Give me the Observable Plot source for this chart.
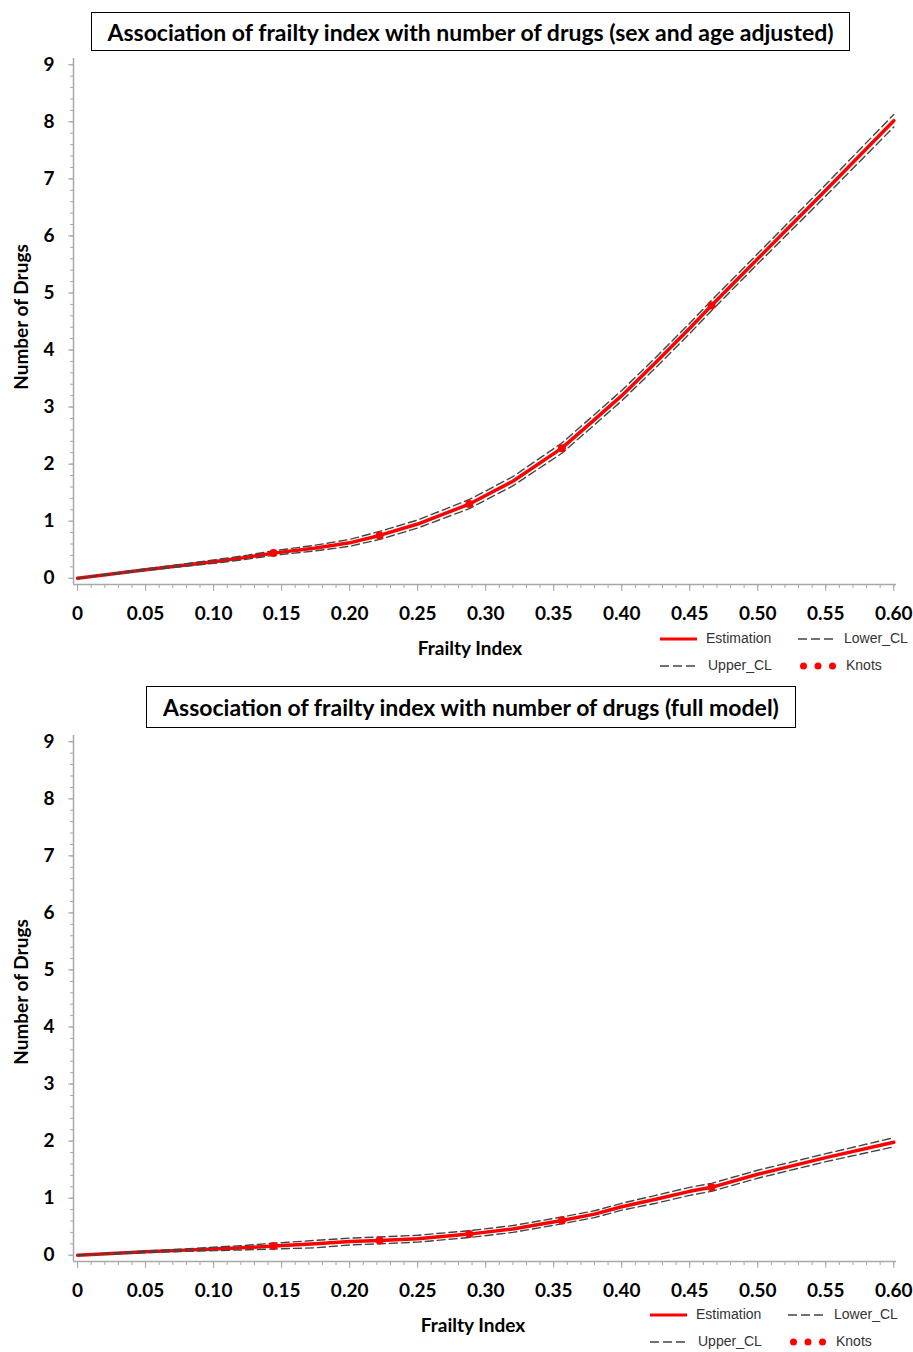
<!DOCTYPE html>
<html>
<head>
<meta charset="utf-8">
<script src="https://cdn.jsdelivr.net/npm/d3@7"></script>
<script src="https://cdn.jsdelivr.net/npm/@observablehq/plot@0.6"></script>
<style>
  html, body { margin: 0; padding: 0; background: #fff; }
  #page { position: relative; width: 913px; height: 1352px; overflow: hidden; font-family: Lato, "Open Sans", sans-serif; }
  .title { position: absolute; border: 1px solid #000; background: #fff; font-weight: bold; font-size: 23px; display: flex; align-items: center; justify-content: center; box-sizing: border-box; white-space: nowrap; }
  .axt { position: absolute; font-weight: bold; font-size: 19px; white-space: nowrap; line-height: 1; }
  .leg { position: absolute; font-family: "Liberation Sans", Arial, sans-serif; font-size: 14px; color: #333; white-space: nowrap; line-height: 1; }
</style>
</head>
<body>
<div id="page"></div>
<script>
// ---------- data ----------
const frailty = [0, 0.025, 0.05, 0.075, 0.10, 0.125, 0.144, 0.175, 0.20, 0.222, 0.25, 0.288, 0.32, 0.356, 0.38, 0.40, 0.425, 0.45, 0.466, 0.50, 0.55, 0.60];

// chart 1: sex and age adjusted
const est1   = [0, 0.075, 0.15, 0.22, 0.29, 0.37, 0.44, 0.53, 0.62, 0.75, 0.95, 1.30, 1.70, 2.28, 2.78, 3.20, 3.78, 4.38, 4.78, 5.60, 6.80, 8.02];
const upper1 = [0, 0.085, 0.165, 0.24, 0.32, 0.405, 0.48, 0.58, 0.68, 0.82, 1.02, 1.38, 1.78, 2.37, 2.87, 3.29, 3.87, 4.47, 4.87, 5.69, 6.90, 8.13];
const lower1 = [0, 0.065, 0.135, 0.20, 0.26, 0.335, 0.40, 0.48, 0.56, 0.68, 0.88, 1.22, 1.62, 2.19, 2.69, 3.11, 3.69, 4.29, 4.69, 5.51, 6.70, 7.91];

// chart 2: full model
const est2   = [0, 0.03, 0.06, 0.085, 0.11, 0.135, 0.16, 0.20, 0.24, 0.26, 0.29, 0.37, 0.46, 0.61, 0.72, 0.85, 0.98, 1.12, 1.19, 1.42, 1.71, 1.98];
const upper2 = [0, 0.04, 0.075, 0.105, 0.14, 0.175, 0.21, 0.26, 0.30, 0.32, 0.35, 0.43, 0.52, 0.67, 0.78, 0.91, 1.05, 1.19, 1.26, 1.49, 1.78, 2.06];
const lower2 = [0, 0.02, 0.045, 0.065, 0.08, 0.095, 0.11, 0.13, 0.18, 0.20, 0.23, 0.31, 0.40, 0.55, 0.66, 0.79, 0.91, 1.05, 1.12, 1.35, 1.64, 1.90];

const knotX  = [0.144, 0.222, 0.288, 0.356, 0.466];
const knots1 = [0.44, 0.75, 1.30, 2.28, 4.78];
const knots2 = [0.16, 0.26, 0.37, 0.61, 1.19];

const xMajor = [0, 0.05, 0.10, 0.15, 0.20, 0.25, 0.30, 0.35, 0.40, 0.45, 0.50, 0.55, 0.60];
const xMinor = d3.range(0, 61).map(i => i / 100);
const yMajor = [0, 1, 2, 3, 4, 5, 6, 7, 8, 9];
const yMinor = d3.range(0, 46).map(i => i / 5);

const titles = [
  "Association of frailty index with number of drugs (sex and age adjusted)",
  "Association of frailty index with number of drugs (full model)"
];
const xTitle = "Frailty Index";
const yTitle = "Number of Drugs";
const legendLabels = ["Estimation", "Lower_CL", "Upper_CL", "Knots"];

// ---------- drawing ----------
const page = document.getElementById("page");
const gray = "#a8a8a8";
const xDom = [-0.003, 0.602];
const yDom = [-0.11, 9.11];

function chart(est, upper, lower, knotsY, height) {
  const rows = frailty.map((f, i) => ({f, est: est[i], up: upper[i], lo: lower[i]}));
  const kn = knotX.map((f, i) => ({f, y: knotsY[i]}));
  return Plot.plot({
    width: 913,
    height,
    marginLeft: 73,
    marginRight: 17,
    marginTop: 58,
    marginBottom: height - 584,
    style: {fontFamily: "Lato, 'Open Sans', sans-serif", fontSize: "19px", fontWeight: "bold", background: "transparent", overflow: "visible"},
    x: {domain: xDom},
    y: {domain: yDom},
    marks: [
      Plot.ruleX([xDom[0]], {stroke: gray, strokeWidth: 1.5}),
      Plot.ruleY([yDom[0]], {stroke: gray, strokeWidth: 1.5}),
      Plot.axisY(yMinor, {tickSize: 3, stroke: gray, text: null, label: null}),
      Plot.axisY(yMajor, {tickSize: 5, tickPadding: 14, stroke: gray, fill: "black", label: null, tickFormat: d => String(d)}),
      Plot.axisX(xMinor, {tickSize: 4, stroke: gray, text: null, label: null}),
      Plot.axisX(xMajor, {tickSize: 7, tickPadding: 15, stroke: gray, fill: "black", label: null, tickFormat: d => d === 0 ? "0" : d.toFixed(2)}),
      Plot.line(rows, {x: "f", y: "est", stroke: "#ff0000", strokeWidth: 3.5}),
      Plot.line(rows, {x: "f", y: "up", stroke: "#444", strokeWidth: 1.4, strokeDasharray: "8,4"}),
      Plot.line(rows, {x: "f", y: "lo", stroke: "#444", strokeWidth: 1.4, strokeDasharray: "8,4"}),
      Plot.dot(kn, {x: "f", y: "y", r: 4, fill: "#ff0000", stroke: "none"})
    ]
  });
}

function place(el, top) {
  el.style.position = "absolute";
  el.style.left = "0px";
  el.style.top = top + "px";
  page.appendChild(el);
}

function addDiv(cls, text, styles) {
  const d = document.createElement("div");
  d.className = cls;
  d.textContent = text;
  Object.assign(d.style, styles);
  page.appendChild(d);
  return d;
}

function legendSwatch(type, left, cy, w) {
  const ns = "http://www.w3.org/2000/svg";
  const s = document.createElementNS(ns, "svg");
  s.setAttribute("width", w);
  s.setAttribute("height", 12);
  s.style.position = "absolute";
  s.style.left = left + "px";
  s.style.top = (cy - 6) + "px";
  if (type === "line" || type === "dash") {
    const l = document.createElementNS(ns, "line");
    l.setAttribute("x1", 0); l.setAttribute("x2", w);
    l.setAttribute("y1", 6); l.setAttribute("y2", 6);
    if (type === "line") { l.setAttribute("stroke", "#ff0000"); l.setAttribute("stroke-width", 3); }
    else { l.setAttribute("stroke", "#444"); l.setAttribute("stroke-width", 1.3); l.setAttribute("stroke-dasharray", "9,4"); }
    s.appendChild(l);
  } else {
    [0, 0.5, 1].forEach(t => {
      const c = document.createElementNS(ns, "circle");
      c.setAttribute("cx", 3.5 + t * (w - 7)); c.setAttribute("cy", 6); c.setAttribute("r", 3.5);
      c.setAttribute("fill", "#ff0000");
      s.appendChild(c);
    });
  }
  page.appendChild(s);
}

function legend(top, dx) {
  const r1 = top, r2 = top + 27;
  legendSwatch("line", 660 + dx, r1, 37);
  addDiv("leg", legendLabels[0], {left: (706 + dx) + "px", top: (r1 - 8) + "px"});
  legendSwatch("dash", 798 + dx, r1, 35);
  addDiv("leg", legendLabels[1], {left: (844 + dx) + "px", top: (r1 - 8) + "px"});
  legendSwatch("dash", 660 + dx, r2, 37);
  addDiv("leg", legendLabels[2], {left: (708 + dx) + "px", top: (r2 - 8) + "px"});
  legendSwatch("dots", 800 + dx, r2, 36);
  addDiv("leg", legendLabels[3], {left: (846 + dx) + "px", top: (r2 - 8) + "px"});
}

// chart 1
place(chart(est1, upper1, lower1, knots1, 677), 0);
addDiv("title", titles[0], {left: "91px", top: "12px", width: "759px", height: "39px"});
addDiv("axt", xTitle, {left: "470px", top: "638px", transform: "translateX(-50%)"});
addDiv("axt", yTitle, {left: "20px", top: "317px", transform: "translate(-50%,-50%) rotate(-90deg)"});
legend(639, 0);

// chart 2
place(chart(est2, upper2, lower2, knots2, 675), 677);
addDiv("title", titles[1], {left: "146px", top: "686px", width: "650px", height: "42px"});
addDiv("axt", xTitle, {left: "473px", top: "1315px", transform: "translateX(-50%)"});
addDiv("axt", yTitle, {left: "20px", top: "992px", transform: "translate(-50%,-50%) rotate(-90deg)"});
legend(1315, -10);
</script>
</body>
</html>
